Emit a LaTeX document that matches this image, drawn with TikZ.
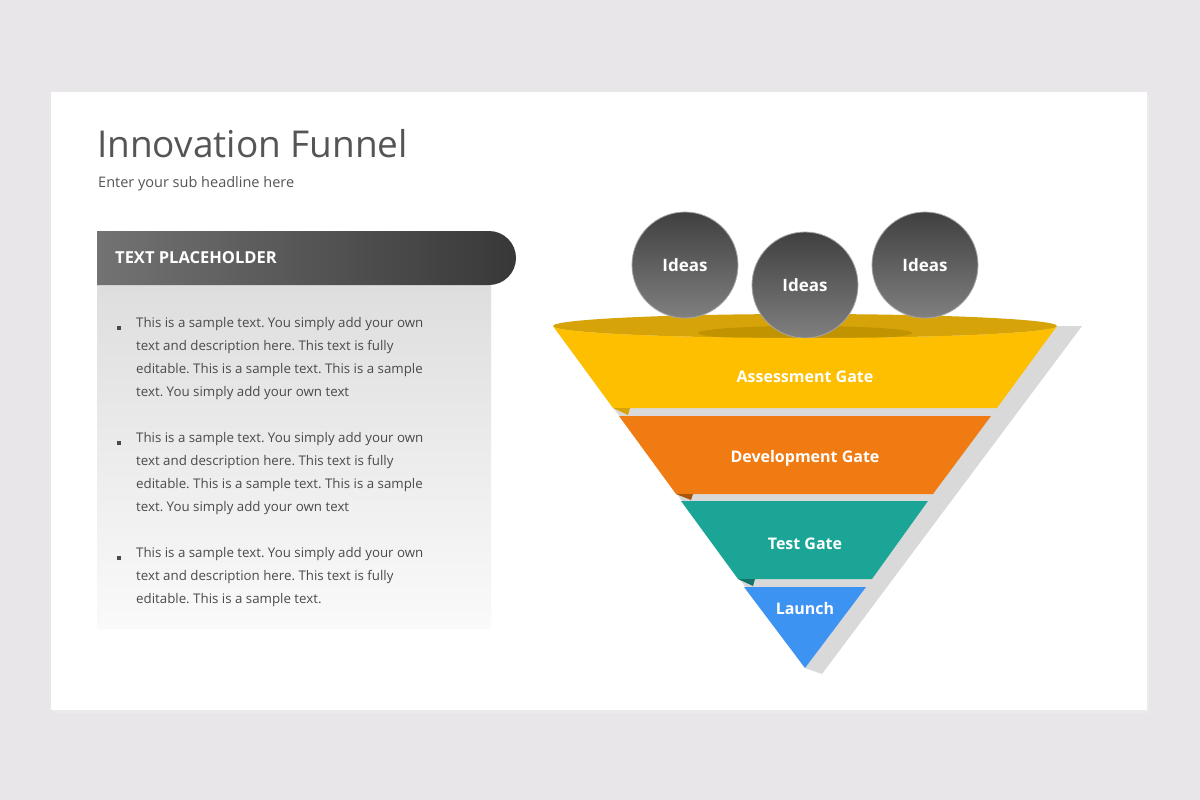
\documentclass[tikz,border=0pt]{standalone}
\usepackage{fontspec}
\setmainfont{Open Sans}
\usetikzlibrary{shapes.geometric}
\definecolor{bgc}{HTML}{E8E6E8}
\definecolor{tc}{HTML}{555555}
\definecolor{bodyc}{HTML}{4A4A4A}
\definecolor{yel}{HTML}{FDBF00}
\definecolor{yeltop}{HTML}{D6A408}
\definecolor{yelin}{HTML}{C29300}
\definecolor{ora}{HTML}{F07B12}
\definecolor{teal}{HTML}{1BA597}
\definecolor{blu}{HTML}{3D93F2}
\definecolor{shad}{HTML}{D9D9D9}
\frenchspacing
\tikzset{
 lbl/.style={text=white,font=\bfseries\fontsize{16}{18}\selectfont},
 ball/.style={circle,minimum size=106pt,inner sep=0pt,draw=gray!70,line width=0.8pt,top color=black!75,bottom color=black!50,text=white,font=\bfseries\fontsize{17}{19}\selectfont},
 body/.style={anchor=north west,align=left,text=bodyc,font=\fontsize{13.3}{23}\selectfont,inner sep=0pt},
 bul/.style={fill=bodyc,minimum size=4.5pt,inner sep=0pt}
}
\begin{document}
\begin{tikzpicture}[x=1pt,y=-1pt]
\path[use as bounding box,fill=bgc] (0,0) rectangle (1200,800);
\fill[black!8] (53,95) rectangle (1149,713);
\node[fill=white,draw=none,minimum width=1096pt,minimum height=618pt,inner sep=0pt] (card) at (599,401) {};
\node[anchor=base west,text=tc,font=\fontsize{37}{40}\selectfont,inner sep=0pt] (title) at (97,157) {Innovation Funnel};
\node[anchor=base west,text=tc,font=\fontsize{14.5}{17}\selectfont,inner sep=0pt] (sub) at (98,187) {Enter your sub headline here};
% panel
\shade[top color=black!13,bottom color=black!2] (97,285) rectangle (491,628);
\shade[left color=black!55,right color=black!78] (97,231) -- (489,231) arc[start angle=-90,end angle=90,radius=27] -- (97,285) -- cycle;
\node[anchor=west,text=white,font=\bfseries\fontsize{16.5}{19}\selectfont,inner sep=0pt] (hd) at (115,258) {TEXT PLACEHOLDER};
\node[body] (t1) at (136,317) {This is a sample text. You simply add your own\\text and description here. This text is fully\\editable. This is a sample text. This is a sample\\text. You simply add your own text};
\node[body] (t2) at (136,432) {This is a sample text. You simply add your own\\text and description here. This text is fully\\editable. This is a sample text. This is a sample\\text. You simply add your own text};
\node[body] (t3) at (136,547) {This is a sample text. You simply add your own\\text and description here. This text is fully\\editable. This is a sample text.};
\node[bul] (b1) at (119,328) {};
\node[bul] (b2) at (119,443) {};
\node[bul] (b3) at (119,558) {};
% funnel shadow
\fill[shad] (553,326) -- (1082,326) -- (822,674) -- (805,668) -- cycle;
% top ellipse
\fill[yeltop] (805,326) ellipse[x radius=252,y radius=12];
\fill[yelin] (805,333) ellipse[x radius=107,y radius=7];
% balls
\node[ball] (i1) at (685,265) {Ideas};
\node[ball] (i3) at (925,265) {Ideas};
\node[ball] (i2) at (805,285) {Ideas};
% bands
\fill[yel] (553,326) arc[start angle=180,end angle=0,x radius=252,y radius=12] -- (997,408) -- (613,408) -- cycle;
\fill[yeltop] (613,408) -- (630,408) -- (628,415) -- cycle;
\fill[ora] (619,416) -- (991,416) -- (933,494) -- (676,494) -- cycle;
\fill[ora!70!black] (676,494) -- (693,494) -- (691,500) -- cycle;
\fill[teal] (681,501) -- (928,501) -- (872,579) -- (738,579) -- cycle;
\fill[teal!70!black] (738,579) -- (755,579) -- (753,586) -- cycle;
\fill[blu] (744,587) -- (866,587) -- (805,668) -- cycle;
\node[lbl] (g1) at (805,377) {Assessment Gate};
\node[lbl] (g2) at (805,458) {Development Gate};
\node[lbl] (g3) at (805,544) {Test Gate};
\node[lbl] (g4) at (805,608) {Launch};
\end{tikzpicture}
\end{document}
